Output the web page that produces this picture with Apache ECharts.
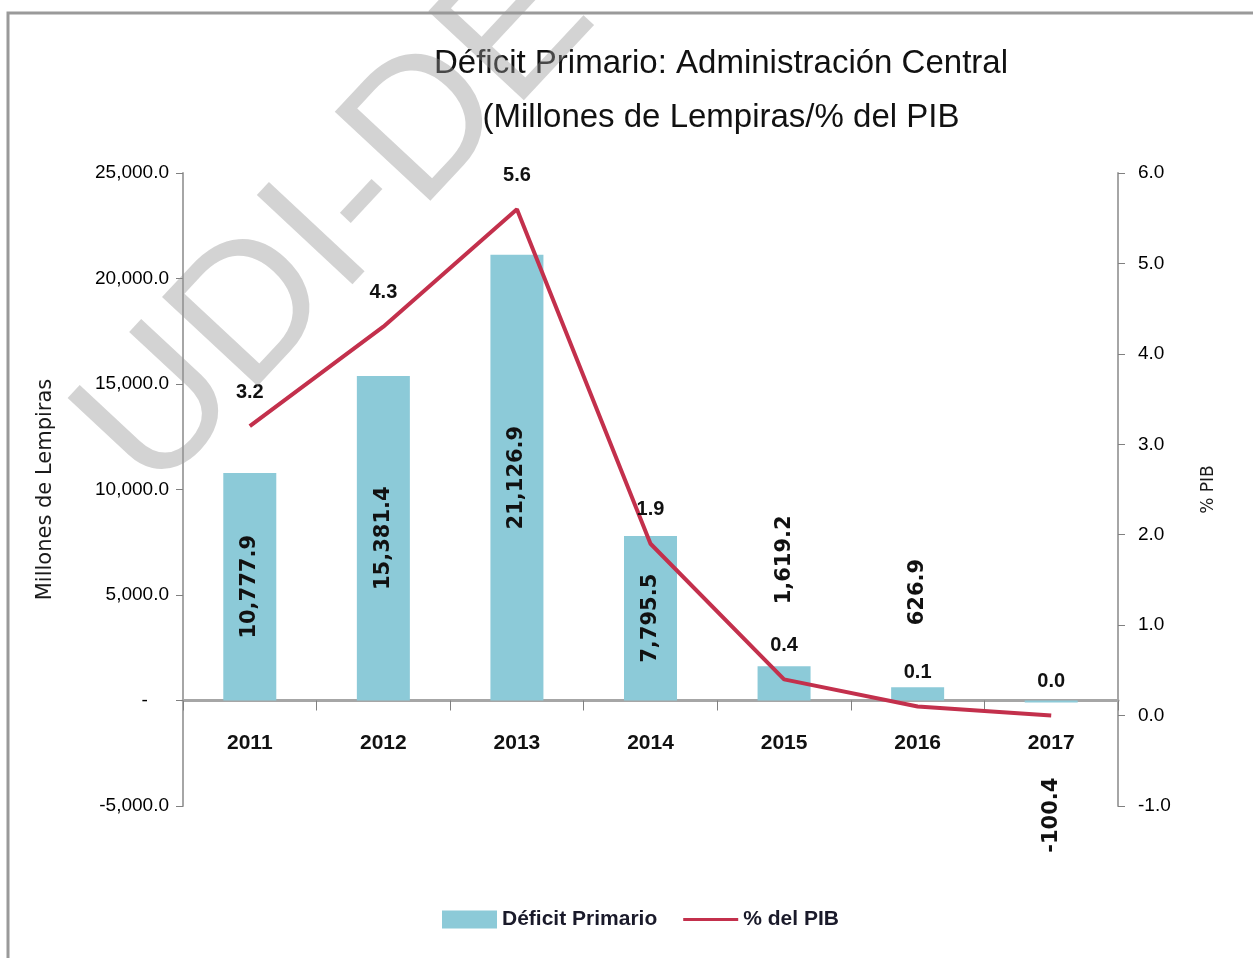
<html>
<head>
    <meta charset="UTF-8">
    <title>Déficit Primario</title>
    <script src="https://cdn.jsdelivr.net/npm/echarts@6/dist/echarts.min.js"></script>
    <style>
        body { margin: 0; background: #fff; }
        #chart { width: 1253px; height: 958px; }
    </style>
</head>
<body>
    <div id="chart"></div>
    <script>
        // datos
        var years = ['2011', '2012', '2013', '2014', '2015', '2016', '2017'];
        var deficit = [10777.9, 15381.4, 21126.9, 7795.5, 1619.2, 626.9, -100.4];
        var pctPib = [3.2, 4.3, 5.6, 1.9, 0.4, 0.1, 0.0];

        var FONT = '"Liberation Sans", sans-serif';

        function fmtMiles(v) {
            if (v === 0) return '-    ';
            return v.toLocaleString('en-US', { minimumFractionDigits: 1, maximumFractionDigits: 1 });
        }

        var barData = deficit.map(function (v) {
            var lbl;
            if (v > 5000) {
                lbl = { position: 'inside', rotate: 90 };
            } else if (v >= 0) {
                lbl = { position: 'top', rotate: 90, align: 'left', verticalAlign: 'middle', distance: 62 };
            } else {
                lbl = { position: 'bottom', rotate: 90, align: 'right', verticalAlign: 'middle', distance: 75 };
            }
            return { value: v, label: lbl };
        });

        var gridTop = 173, gridBottom = 152, chartH = 958;
        var yMin = -5000, yMax = 25000;
        // mover el eje de categorias hasta el cero del eje izquierdo
        var plotH = chartH - gridTop - gridBottom;
        var xOffset = -plotH * (0 - yMin) / (yMax - yMin);

        var chart = echarts.init(document.getElementById('chart'), null, { renderer: 'canvas' });
        chart.setOption({
            animation: false,
            textStyle: { fontFamily: FONT },
            graphic: [
                {
                    type: 'rect', silent: true, z: -10,
                    shape: { x: 8, y: 13, width: 1260, height: 960 },
                    style: { fill: 'none', stroke: '#9a9a9a', lineWidth: 3 }
                },
                {
                    type: 'text', silent: true, z: 100,
                    x: 115, y: 462, rotation: 47 * Math.PI / 180,
                    style: {
                        text: 'UDI-DECA', font: '190px "Liberation Sans", sans-serif',
                        fill: 'rgba(150,150,150,0.42)',
                        textAlign: 'left', textVerticalAlign: 'middle'
                    }
                }
            ],
            title: {
                text: 'Déficit Primario: Administración Central\n(Millones de Lempiras/% del PIB',
                left: 716, top: 32, textAlign: 'center',
                textStyle: { fontFamily: FONT, fontSize: 33, fontWeight: 'normal', color: '#111', lineHeight: 54 }
            },
            legend: {
                bottom: 23, left: 437,
                itemWidth: 55, itemHeight: 18, itemGap: 26,
                textStyle: { fontFamily: FONT, fontSize: 21, fontWeight: 'bold', color: '#1a1a2a' },
                data: [
                    { name: 'Déficit Primario', icon: 'rect' },
                    { name: '% del PIB', icon: 'path://M0,0 M0,18 M0,7.5 L55,7.5 L55,10.5 L0,10.5 Z' }
                ]
            },
            grid: { left: 183, right: 135, top: gridTop, bottom: gridBottom },
            xAxis: {
                type: 'category',
                data: years,
                offset: xOffset,
                axisLine: { onZero: false, lineStyle: { color: '#a6a6a6', width: 3 } },
                axisTick: { show: true, alignWithLabel: false, length: 10, lineStyle: { color: '#808080' } },
                axisLabel: { margin: 32, fontSize: 21, fontWeight: 'bold', color: '#111' }
            },
            yAxis: [
                {
                    type: 'value', min: yMin, max: yMax, interval: 5000,
                    splitLine: { show: false },
                    axisLine: { show: true, lineStyle: { color: '#a6a6a6', width: 2 } },
                    axisTick: { show: true, length: 7, lineStyle: { color: '#808080' } },
                    axisLabel: { formatter: fmtMiles, fontSize: 19, color: '#000', margin: 14 },
                    name: 'Millones de Lempiras', nameLocation: 'middle', nameGap: 127, nameRotate: 90,
                    nameTextStyle: { fontFamily: '"DejaVu Sans", sans-serif', fontSize: 21, color: '#1a1a1a' }
                },
                {
                    type: 'value', min: -1, max: 6, interval: 1,
                    splitLine: { show: false },
                    axisLine: { show: true, lineStyle: { color: '#a6a6a6', width: 2 } },
                    axisTick: { show: true, length: 7, lineStyle: { color: '#808080' } },
                    axisLabel: {
                        formatter: function (v) { return v.toFixed(1); },
                        fontSize: 19, color: '#000', margin: 20
                    },
                    name: '% PIB', nameLocation: 'middle', nameGap: 82, nameRotate: 90,
                    nameTextStyle: { fontFamily: '"DejaVu Sans", sans-serif', fontSize: 17, color: '#1a1a1a' }
                }
            ],
            series: [
                {
                    name: 'Déficit Primario',
                    type: 'bar',
                    yAxisIndex: 0,
                    barWidth: 53,
                    data: barData,
                    itemStyle: { color: '#8ccad8' },
                    label: {
                        show: true,
                        formatter: function (p) { return fmtMiles(p.value); },
                        fontFamily: '"DejaVu Sans", sans-serif', fontSize: 21, fontWeight: 'bold', color: '#111'
                    }
                },
                {
                    name: '% del PIB',
                    type: 'line',
                    yAxisIndex: 1,
                    data: pctPib,
                    showSymbol: true,
                    symbol: 'circle',
                    symbolSize: 0.1,
                    lineStyle: { color: '#c3304c', width: 4 },
                    itemStyle: { color: '#c3304c' },
                    label: {
                        show: true, position: 'top', distance: 24,
                        formatter: function (p) { return p.value.toFixed(1); },
                        fontSize: 20, fontWeight: 'bold', color: '#111'
                    }
                }
            ]
        });
    </script>
</body>
</html>
